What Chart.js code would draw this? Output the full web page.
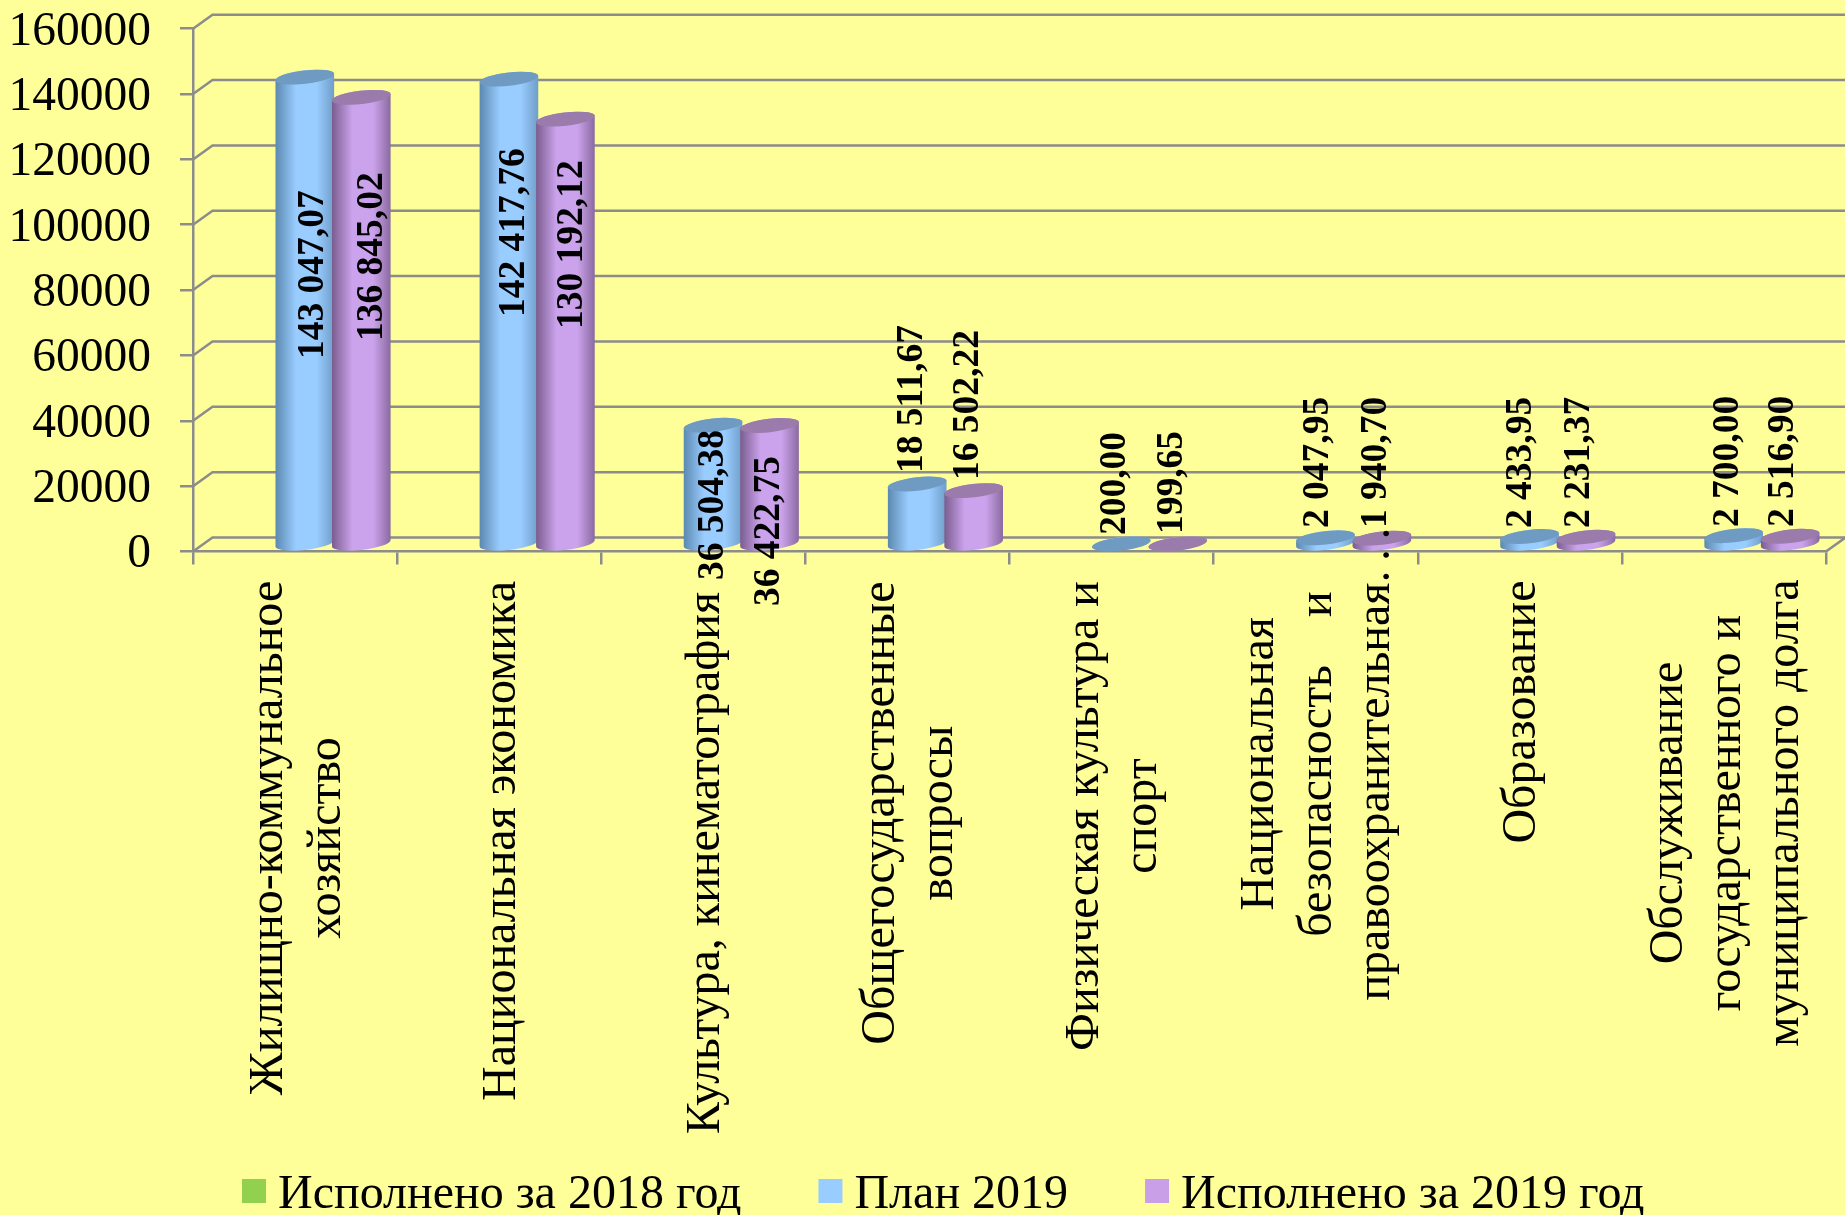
<!DOCTYPE html>
<html>
<head>
<meta charset="utf-8">
<title>Расходы бюджета</title>
<script src="https://cdn.jsdelivr.net/npm/chart.js@4"></script>
<style>
html, body { margin: 0; padding: 0; background: #FFFF99; }
canvas { display: block; }
</style>
</head>
<body>
<canvas id="grafica" width="1845" height="1215"></canvas>
<script>
// Datos de la gráfica
const categories = [
    ['Жилищно-коммунальное', 'хозяйство'],
    ['Национальная экономика'],
    ['Культура, кинематография'],
    ['Общегосударственные', 'вопросы'],
    ['Физическая культура и', 'спорт'],
    ['Национальная', 'безопасность    и', 'правоохранительная.\u2009.\u2009.'],
    ['Образование'],
    ['Обслуживание', 'государственного и', 'муниципального долга']
];
const seriesNames = ['Исполнено за 2018 год', 'План 2019', 'Исполнено за 2019 год'];
const isp2018 = [null, null, null, null, null, null, null, null];
const plan2019 = [143047.07, 142417.76, 36504.38, 18511.67, 200.00, 2047.95, 2433.95, 2700.00];
const isp2019 = [136845.02, 130192.12, 36422.75, 16502.22, 199.65, 1940.70, 2231.37, 2516.90];
const yMax = 160000;
const yStep = 20000;

// Colores
const LINEA = '#8C8C8C';
const FUENTE = '"Liberation Serif"';
const colores = ['#92D050', '#99CCFF', '#C9A0E8'];
const sombras = [
    null,
    { borde: '#5B88AF', medio: '#99CCFF', dcha: '#6F9DC8', tapa: '#6F9BC2' },
    { borde: '#7A5C8E', medio: '#CBA3EC', dcha: '#8A6AA0', tapa: '#9A7BAB' }
];

// Posición de las etiquetas de valor (a mano, como en el original)
const nudgeX = [
    null,
    [8, 5, 0, -5, -6, -7, -8, -5],
    [11, 7, 0, -5, -5, -6, -7, -7]
];
const labelBottom = [
    null,
    [359, 317, 580, 473, 535, 528, 528, 527],
    [341, 329, 606, 480, 534, 528, 528, 527]
];
// Centro vertical de cada bloque de texto del eje X
const catMidY = [838, 841, 863, 813, 816, 764, 712, 813];

// Profundidad del "3D"
const DX = 19.5;
const DY = 14;
const RX = 29.5;
const RY = 6.7;
const TILT = -6.5 * Math.PI / 180;

function formatValue(v) {
    const partes = v.toFixed(2).split('.');
    return partes[0].replace(/\B(?=(\d{3})+$)/g, ' ') + ',' + partes[1];
}

// Pared trasera: líneas de rejilla con su diagonal
const paredPlugin = {
    id: 'pared',
    beforeDatasetsDraw(chart) {
        const ctx = chart.ctx;
        const area = chart.chartArea;
        const y = chart.scales.y;
        ctx.save();
        ctx.strokeStyle = LINEA;
        ctx.lineWidth = 2.5;
        for (let v = 0; v <= yMax; v += yStep) {
            const py = y.getPixelForValue(v);
            ctx.beginPath();
            ctx.moveTo(area.left, py);
            ctx.lineTo(area.left + DX, py - DY);
            ctx.lineTo(area.right + DX, py - DY);
            ctx.stroke();
        }
        const py0 = y.getPixelForValue(0);
        ctx.beginPath();
        ctx.moveTo(area.right, py0);
        ctx.lineTo(area.right + DX, py0 - DY);
        ctx.stroke();
        ctx.restore();
    }
};

function drawCylinder(ctx, cx, yTop, yBase, sombra) {
    const t0 = Math.atan2(-RY * Math.sin(TILT), RX * Math.cos(TILT));
    const grad = ctx.createLinearGradient(cx - RX, 0, cx + RX, 0);
    grad.addColorStop(0, sombra.borde);
    grad.addColorStop(0.35, sombra.medio);
    grad.addColorStop(0.7, sombra.medio);
    grad.addColorStop(1, sombra.dcha);
    ctx.beginPath();
    ctx.ellipse(cx, yBase, RX, RY, TILT, t0, t0 + Math.PI);
    ctx.ellipse(cx, yTop, RX, RY, TILT, t0 + Math.PI, t0 + 2 * Math.PI);
    ctx.closePath();
    ctx.fillStyle = grad;
    ctx.fill();
    ctx.beginPath();
    ctx.ellipse(cx, yTop, RX, RY, TILT, 0, 2 * Math.PI);
    ctx.fillStyle = sombra.tapa;
    ctx.fill();
}

// Cilindros y etiquetas de valor, sobre las posiciones de las barras
const cilindrosPlugin = {
    id: 'cilindros',
    afterDatasetsDraw(chart) {
        const ctx = chart.ctx;
        chart.data.datasets.forEach((ds, d) => {
            if (!sombras[d]) return;
            chart.getDatasetMeta(d).data.forEach((bar, i) => {
                if (ds.data[i] === null) return;
                drawCylinder(ctx, bar.x + DX / 2, bar.y - DY / 2, bar.base - DY / 2, sombras[d]);
            });
        });
    },
    afterDraw(chart) {
        const ctx = chart.ctx;
        // Etiquetas de valor
        ctx.save();
        ctx.font = 'bold 37.5px ' + FUENTE;
        ctx.fillStyle = '#000';
        ctx.textAlign = 'left';
        ctx.textBaseline = 'middle';
        chart.data.datasets.forEach((ds, d) => {
            if (!sombras[d]) return;
            chart.getDatasetMeta(d).data.forEach((bar, i) => {
                ctx.save();
                ctx.translate(bar.x + DX / 2 + nudgeX[d][i], labelBottom[d][i]);
                ctx.rotate(-Math.PI / 2);
                ctx.fillText(formatValue(ds.data[i]), 0, 0);
                ctx.restore();
            });
        });
        ctx.restore();

        // Etiquetas de categoría, centradas línea a línea
        const x = chart.scales.x;
        ctx.save();
        ctx.font = '48px ' + FUENTE;
        ctx.fillStyle = '#000';
        ctx.textAlign = 'center';
        ctx.textBaseline = 'middle';
        categories.forEach((lineas, i) => {
            const cx = x.getPixelForTick(i) + 3;
            lineas.forEach((linea, k) => {
                ctx.save();
                ctx.translate(cx + (k - (lineas.length - 1) / 2) * 58, catMidY[i]);
                ctx.rotate(-Math.PI / 2);
                ctx.fillText(linea, 0, 0);
                ctx.restore();
            });
        });
        ctx.restore();

        // Leyenda
        ctx.save();
        ctx.font = '48px ' + FUENTE;
        ctx.textBaseline = 'middle';
        ctx.textAlign = 'left';
        let lx = 242;
        seriesNames.forEach((nombre, d) => {
            ctx.fillStyle = colores[d];
            ctx.fillRect(lx, 1179, 24, 24);
            ctx.fillStyle = '#000';
            ctx.fillText(nombre, lx + 36, 1195);
            lx += 36 + ctx.measureText(nombre).width + 77;
        });
        ctx.restore();
    }
};

const datasets = [isp2018, plan2019, isp2019].map((valores, d) => ({
    label: seriesNames[d],
    data: valores,
    backgroundColor: 'transparent',
    categoryPercentage: 0.83,
    barPercentage: 1
}));

const grafica = new Chart(document.getElementById('grafica').getContext('2d'), {
    type: 'bar',
    data: {
        labels: categories.map(l => l.join(' ')),
        datasets: datasets
    },
    plugins: [paredPlugin, cilindrosPlugin],
    options: {
        responsive: false,
        animation: false,
        layout: { padding: { top: 28.7, right: 19, left: 0, bottom: 643.5 } },
        plugins: {
            legend: { display: false },
            tooltip: { enabled: false }
        },
        scales: {
            x: {
                afterFit(scale) { scale.height = 20; },
                ticks: { display: false },
                grid: { offset: true, drawOnChartArea: false, color: LINEA, lineWidth: 2.5, tickLength: 13 },
                border: { color: LINEA, width: 2.5 }
            },
            y: {
                min: 0,
                max: yMax,
                afterFit(scale) {
                    scale.width = 193;
                    scale.paddingTop = 0;
                    scale.paddingBottom = 0;
                },
                ticks: {
                    stepSize: yStep,
                    padding: 29,
                    labelOffset: 3.5,
                    color: '#000',
                    font: { family: FUENTE, size: 47.5 },
                    callback: v => String(v)
                },
                grid: { drawOnChartArea: false, color: LINEA, lineWidth: 2.5, tickLength: 13 },
                border: { color: LINEA, width: 2.5 }
            }
        }
    }
});
</script>
</body>
</html>
